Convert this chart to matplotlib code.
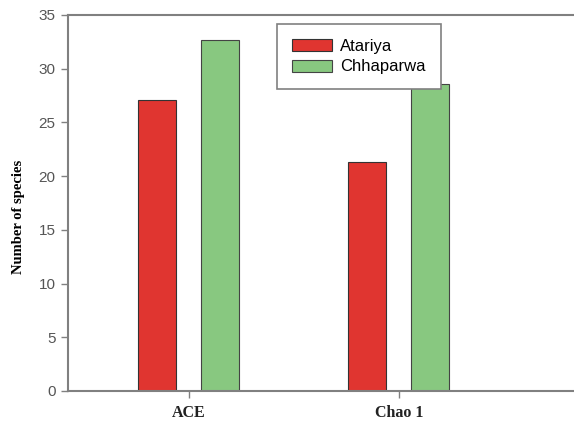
import matplotlib
matplotlib.use('Agg')
import matplotlib.pyplot as plt
import numpy as np

# data
categories = ['ACE', 'Chao 1']
sites = ['Atariya', 'Chhaparwa']
atariya = [27.1, 21.3]
chhaparwa = [32.7, 28.6]
yticks = [0, 5, 10, 15, 20, 25, 30, 35]

RED = '#e03530'
GREEN = '#88c880'
GREY = '#808080'

fig = plt.figure(figsize=(5.74, 4.21), dpi=100)
ax = fig.add_axes([0.1185, 0.0713, 0.8815, 0.8931])

x = np.arange(len(categories))
w = 0.18
ax.bar(x - 0.152, atariya, w, color=RED, edgecolor='#333333', linewidth=0.8, label=sites[0])
ax.bar(x + 0.148, chhaparwa, w, color=GREEN, edgecolor='#444444', linewidth=0.8, label=sites[1])

ax.set_xlim(-0.576, 1.833)
ax.set_ylim(0, 35)
ax.set_yticks(yticks)
ax.set_xticks(x)
ax.set_xticklabels(categories, family='Liberation Serif', fontweight='bold',
                   fontsize=11.5, color='#222222')
for lab in ax.get_yticklabels():
    lab.set_family('Liberation Sans')
    lab.set_color('#555555')
    lab.set_fontsize(11)

ax.spines['right'].set_visible(False)
for s in ['left', 'bottom', 'top']:
    ax.spines[s].set_color(GREY)
    ax.spines[s].set_linewidth(1.5)
ax.tick_params(axis='both', direction='out', length=5, width=1, color=GREY, pad=4)
ax.tick_params(axis='x', pad=5)

ax.set_ylabel('Number of species', family='Liberation Serif', fontweight='bold',
              fontsize=10.5)
ax.yaxis.set_label_coords(-0.085, 0.463)

leg = ax.legend(loc='upper left', bbox_to_anchor=(0.413, 0.977), fancybox=False,
                edgecolor=GREY, prop={'family': 'Liberation Sans', 'size': 12},
                handlelength=2.4, handleheight=0.75, borderpad=0.9, labelspacing=0.35,
                handletextpad=0.5, framealpha=1, borderaxespad=0)
leg.get_frame().set_linewidth(1.2)

fig.savefig('out.png', dpi=100)
